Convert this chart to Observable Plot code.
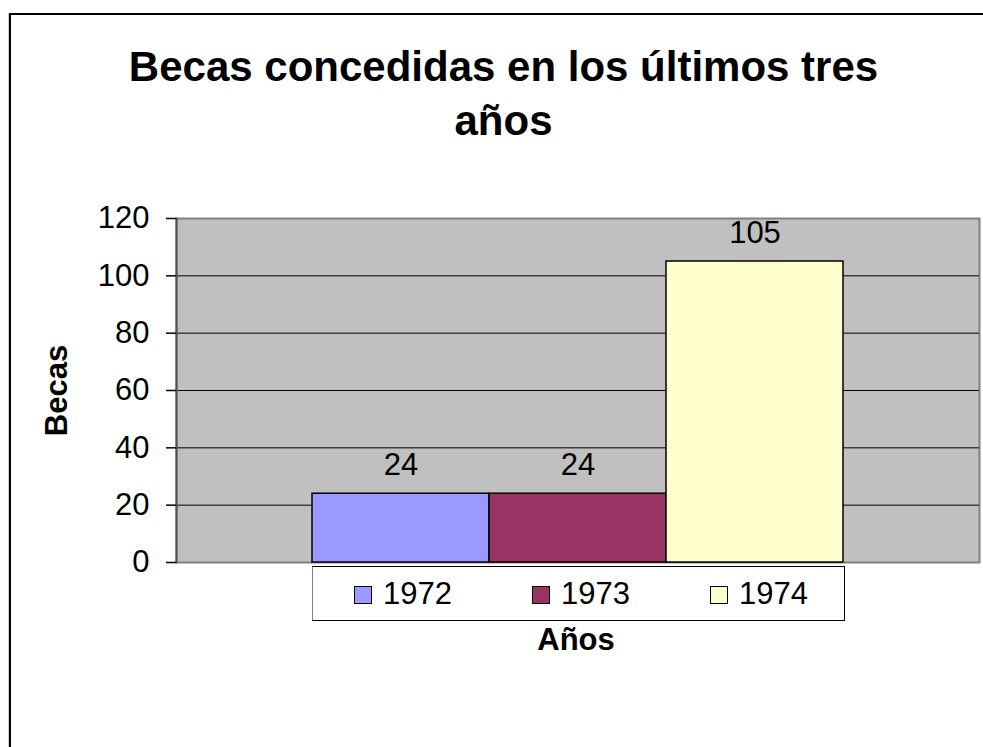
<!DOCTYPE html>
<html>
<head>
<meta charset="utf-8">
<script src="https://cdn.jsdelivr.net/npm/d3@7"></script>
<script src="https://cdn.jsdelivr.net/npm/@observablehq/plot@0.6"></script>
<style>
  html, body { margin: 0; padding: 0; background: #fff; overflow: hidden; }
  #wrap { position: relative; width: 983px; height: 747px; overflow: hidden; font-family: "Liberation Sans", Arial, sans-serif; }
  #bleft { position: absolute; left: 8px; top: 13px; width: 1px; height: 734px; background: #ccc; }
  #bl { position: absolute; left: 9px; top: 13px; width: 2px; height: 734px; background: #000; }
  #bt { position: absolute; left: 9px; top: 13px; width: 1200px; height: 2px; background: #000; }
  #chart { position: absolute; left: 0; top: 0; }
  #chart svg { overflow: hidden; }
  #title { position: absolute; left: 0; top: 40px; width: 983px; text-align: center; font-weight: bold; font-size: 42px; line-height: 54px; white-space: nowrap; color: #000; padding-right: 0; }
  #title span { display: inline-block; position: relative; left: 12px; }
  #legend { position: absolute; left: 312px; top: 566px; width: 533px; height: 55px; border: 1px solid #000; border-left-color: #808080; background: #fff; display: flex; align-items: center; padding-left: 41px; box-sizing: border-box; }
  .item { display: flex; align-items: center; width: 178px; font-size: 31px; flex: none; }
  .sw { width: 16px; height: 16px; border: 1.5px solid #000; margin-right: 11px; margin-top: 2px; }
  #xlabel { position: absolute; left: 476px; width: 200px; top: 622px; text-align: center; font-weight: bold; font-size: 31px; line-height: 36px; }
</style>
</head>
<body>
<div id="wrap">
  <div id="bleft"></div>
  <div id="bl"></div>
  <div id="bt"></div>
  <div id="chart"></div>
  <div id="title"><span></span></div>
  <div id="legend"></div>
  <div id="xlabel"></div>
</div>
<script>
const titleLines = ["Becas concedidas en los últimos tres", "años"];
const years = ["1972", "1973", "1974"];
const values = [24, 24, 105];
const colors = ["#9999FF", "#993366", "#FFFFCC"];
const yTicks = [0, 20, 40, 60, 80, 100, 120];
const yLabel = "Becas";
const xLabel = "Años";

const data = years.map((y, i) => ({year: y, value: values[i]}));

const plot = Plot.plot({
  width: 983,
  height: 747,
  marginLeft: 176,
  marginRight: 4,
  marginTop: 218,
  marginBottom: 185,
  style: {fontFamily: "'Liberation Sans', Arial, sans-serif", background: "transparent", color: "#000"},
  x: {type: "band", domain: years, paddingInner: 0, paddingOuter: 0.758, axis: null},
  y: {domain: [0, 120], axis: null},
  color: {domain: years, range: colors},
  marks: [
    Plot.frame({fill: "#C0C0C0", stroke: "#808080", strokeWidth: 2}),
    Plot.ruleY(yTicks.slice(1, -1), {stroke: "#000", strokeWidth: 1}),
    Plot.frame({anchor: "left", stroke: "#505050", strokeWidth: 2}),
    Plot.axisY({ticks: yTicks, tickSize: 10, tickPadding: 17, fontSize: 31, stroke: "#000", strokeWidth: 1.5, fill: "#000", label: null}),
    Plot.barY(data, {x: "year", y: "value", fill: "year", stroke: "#000", strokeWidth: 1.5}),
    Plot.text(data, {x: "year", y: "value", text: d => String(d.value), lineAnchor: "bottom", dy: -19, fontSize: 31, fill: "#000"}),
    Plot.text([yLabel], {text: d => d, frameAnchor: "left", textAnchor: "middle", dx: -119, rotate: -90, fontSize: 31, fontWeight: "bold", fill: "#000"})
  ]
});
document.getElementById("chart").appendChild(plot);

document.querySelector("#title span").innerHTML = titleLines.join("<br>");
document.getElementById("xlabel").textContent = xLabel;

const legend = document.getElementById("legend");
years.forEach((y, i) => {
  const it = document.createElement("div");
  it.className = "item";
  const sw = document.createElement("div");
  sw.className = "sw";
  sw.style.background = colors[i];
  const tx = document.createElement("span");
  tx.textContent = y;
  it.appendChild(sw);
  it.appendChild(tx);
  legend.appendChild(it);
});
</script>
</body>
</html>
